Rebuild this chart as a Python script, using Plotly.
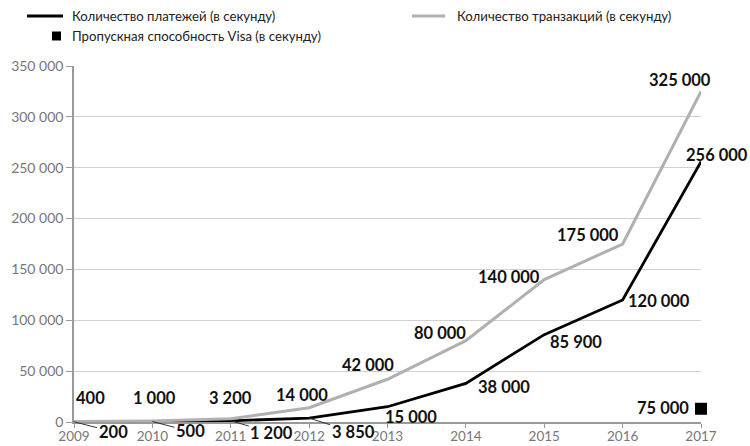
import plotly.graph_objects as go

years = [2009, 2010, 2011, 2012, 2013, 2014, 2015, 2016, 2017]
payments = [200, 500, 1200, 3850, 15000, 38000, 85900, 120000, 256000]
transactions = [400, 1000, 3200, 14000, 42000, 80000, 140000, 175000, 325000]
visa_year = 2017
visa_value = 75000
visa_plot_y = 13000  # where the marker sits in the picture

y_ticks = [0, 50000, 100000, 150000, 200000, 250000, 300000, 350000]

legend_names = ["Количество платежей (в секунду)",
                "Количество транзакций (в секунду)",
                "Пропускная способность Visa (в секунду)"]


def fmt(v):
    return f"{v:,}".replace(",", " ")


FONT = "Lato"
LABEL_FONT = dict(family=FONT, size=16.5, color="#111111")
BLACK = "#000000"
GREY = "#b0b0b0"

# plot area geometry (pixels) used to place legend items in paper coords
L, R, T, B = 74, 49, 66, 24
W, H = 750, 446
PW, PH = W - L - R, H - T - B


def px(xp):
    return (xp - L) / PW


def py(yp):
    return (H - B - yp) / PH


fig = go.Figure()
fig.add_trace(go.Scatter(x=years, y=payments, mode="lines", name=legend_names[0],
                         line=dict(color=BLACK, width=2.8), cliponaxis=False))
fig.add_trace(go.Scatter(x=years, y=transactions, mode="lines", name=legend_names[1],
                         line=dict(color=GREY, width=3), cliponaxis=False))
fig.add_trace(go.Scatter(x=[visa_year], y=[visa_plot_y], mode="markers", name=legend_names[2],
                         marker=dict(symbol="square", size=12, color=BLACK), cliponaxis=False))

# label offsets (pixels)
trans_shift = [(16, 24), (2, 23), (0, 21), (-7, 13), (-20, 14), (-26, 8), (-35, 3), (-35, 9), (-21, 11)]
pay_arrow = {0: (39, 10), 1: (38, 10), 2: (41, 12), 3: (44, 14)}
pay_shift = {4: (23, -10), 5: (38, -4), 6: (32, -7), 7: (36, -1), 8: (16, 7)}

anns = []
for i, (x, v) in enumerate(zip(years, transactions)):
    xs, ys = trans_shift[i]
    anns.append(dict(x=x, y=v, text=f"<b>{fmt(v)}</b>", showarrow=False, xshift=xs, yshift=ys,
                     font=LABEL_FONT))
for i, (x, v) in enumerate(zip(years, payments)):
    if i in pay_arrow:
        ax, ay = pay_arrow[i]
        anns.append(dict(x=x, y=v, text=f"<b>{fmt(v)}</b>", showarrow=True, arrowhead=0,
                         arrowwidth=1, arrowcolor="#333333", ax=ax, ay=ay, standoff=0,
                         font=LABEL_FONT))
    else:
        xs, ys = pay_shift[i]
        anns.append(dict(x=x, y=v, text=f"<b>{fmt(v)}</b>", showarrow=False, xshift=xs, yshift=ys,
                         font=LABEL_FONT))
anns.append(dict(x=visa_year, y=visa_plot_y, text=f"<b>{fmt(visa_value)}</b>", showarrow=False,
                 xanchor="right", xshift=-10, yshift=1, font=LABEL_FONT))

# manual legend
LEG_FONT = dict(family=FONT, size=13.2, color="#222222")
leg_items = [(legend_names[0], 70, 16), (legend_names[1], 455, 16), (legend_names[2], 70, 36)]
for name, lx, ly in leg_items:
    anns.append(dict(xref="paper", yref="paper", x=px(lx), y=py(ly), text=name, showarrow=False,
                     xanchor="left", yanchor="middle", font=LEG_FONT))
shapes = [
    dict(type="line", xref="paper", yref="paper", x0=px(27), x1=px(63), y0=py(16), y1=py(16),
         line=dict(color=BLACK, width=3)),
    dict(type="line", xref="paper", yref="paper", x0=px(412), x1=px(445), y0=py(16), y1=py(16),
         line=dict(color=GREY, width=3)),
    dict(type="rect", xref="paper", yref="paper", x0=px(52), x1=px(61), y0=py(40.5), y1=py(31.5),
         fillcolor=BLACK, line=dict(width=0)),
]

fig.update_layout(
    width=W, height=H,
    margin=dict(l=L, r=R, t=T, b=B),
    paper_bgcolor="white", plot_bgcolor="white",
    font=dict(family=FONT, color="#666666"),
    annotations=anns, shapes=shapes,
    showlegend=False,
    xaxis=dict(range=[2009, 2017], tickvals=years, ticktext=[str(y) for y in years],
               showgrid=False, showline=True, linecolor="#999999", linewidth=1.5,
               ticks="outside", ticklen=4, tickcolor="#999999", automargin=False,
               ticklabelstandoff=-3,
               tickfont=dict(family=FONT, size=13.5, color="#777777"), zeroline=False),
    yaxis=dict(range=[0, 350000], tickvals=y_ticks, ticktext=[fmt(v) for v in y_ticks],
               showgrid=True, gridcolor="#d0d0d0", gridwidth=1, automargin=False,
               showline=True, linecolor="#999999", linewidth=1.5,
               ticks="outside", ticklen=6, tickcolor="#999999",
               tickfont=dict(family=FONT, size=14, color="#777777"), zeroline=False),
)

fig.write_html("out.html")
